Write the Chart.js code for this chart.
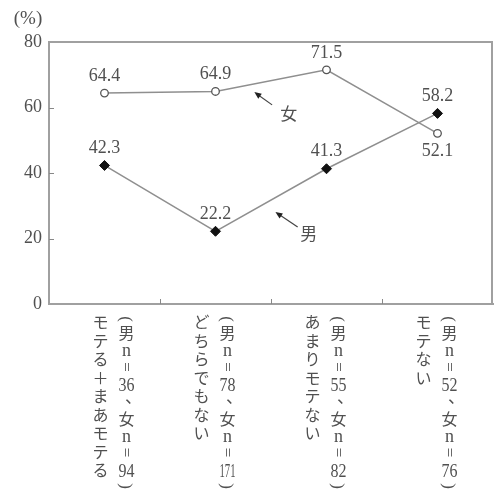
<!DOCTYPE html>
<html>
<head>
<meta charset="utf-8">
<script src="https://cdn.jsdelivr.net/npm/chart.js@4.4.0/dist/chart.umd.min.js"></script>
<style>
  body { margin: 0; background: #fff; }
  canvas { display: block; }
</style>
</head>
<body>
<canvas id="grafico" width="499" height="496"></canvas>
<script>
// categorias y series
const categorias = ['モテる＋まあモテる', 'どちらでもない', 'あまりモテない', 'モテない'];
const muestras = ['(男n=36、女n=94)', '(男n=78、女n=171)', '(男n=55、女n=82)', '(男n=52、女n=76)'];
const mujeres = [64.4, 64.9, 71.5, 52.1];
const hombres = [42.3, 22.2, 41.3, 58.2];
const posMujeres = ['top', 'top', 'top', 'bottom'];
const posHombres = ['top', 'top', 'top', 'top'];
const ticksY = [0, 20, 40, 60, 80];

// anotaciones (en coordenadas de datos)
const notas = [
    { texto: '女', en: [1.66, 58.3], cola: [1.51, 60.8], punta: [1.35, 64.7] },
    { texto: '男', en: [1.84, 21.4], cola: [1.74, 23.5], punta: [1.54, 28.1] }
];

const GRIS_TEXTO = '#505050';
const GRIS_EJE = '#a0a0a0';
const SERIF = '"Liberation Serif", "DejaVu Serif", serif';
const CJK = '"Noto Sans CJK JP", sans-serif';

// texto vertical japonés, token por token
function tokens(str) {
    const out = [];
    let i = 0;
    while (i < str.length) {
        if (/[0-9]/.test(str[i])) {
            let j = i;
            while (j < str.length && /[0-9]/.test(str[j])) j++;
            out.push(str.slice(i, j));
            i = j;
        } else {
            out.push(str[i]);
            i++;
        }
    }
    return out;
}

function avance(t) {
    if (/^[0-9]+$/.test(t)) return 20;
    if (t === '(' || t === ')') return 10;
    if (t === 'n') return 16;
    if (t === '=') return 17;
    if (t === '、') return 14;
    return 18.5;
}

function textoVertical(ctx, str, x, y0) {
    let y = y0;
    ctx.save();
    ctx.fillStyle = GRIS_TEXTO;
    ctx.textAlign = 'center';
    ctx.textBaseline = 'middle';
    for (const t of tokens(str)) {
        const h = avance(t);
        const cy = y + h / 2;
        if (t === '(' || t === ')' || t === '=') {
            ctx.save();
            ctx.translate(x, cy);
            ctx.rotate(Math.PI / 2);
            ctx.font = '17px ' + SERIF;
            ctx.fillText(t, 0, 1);
            ctx.restore();
        } else if (/^[0-9]+$/.test(t) || t === 'n') {
            ctx.font = '18px ' + SERIF;
            const w = ctx.measureText(t).width;
            ctx.save();
            ctx.translate(x, cy);
            if (w > 16) ctx.scale(16 / w, 1);
            ctx.fillText(t, 0, 1);
            ctx.restore();
        } else if (t === '、') {
            ctx.font = '17px ' + CJK;
            ctx.fillText(t, x + 7, cy - 6);
        } else {
            ctx.font = '16px ' + CJK;
            ctx.fillText(t, x, cy);
        }
        y += h;
    }
    ctx.restore();
}

function flecha(ctx, x1, y1, x2, y2) {
    const ang = Math.atan2(y2 - y1, x2 - x1);
    ctx.save();
    ctx.strokeStyle = '#444';
    ctx.fillStyle = '#222';
    ctx.lineWidth = 1.2;
    ctx.beginPath();
    ctx.moveTo(x1, y1);
    ctx.lineTo(x2 - 4 * Math.cos(ang), y2 - 4 * Math.sin(ang));
    ctx.stroke();
    ctx.beginPath();
    ctx.moveTo(x2, y2);
    ctx.lineTo(x2 - 7 * Math.cos(ang) + 3 * Math.sin(ang), y2 - 7 * Math.sin(ang) - 3 * Math.cos(ang));
    ctx.lineTo(x2 - 7 * Math.cos(ang) - 3 * Math.sin(ang), y2 - 7 * Math.sin(ang) + 3 * Math.cos(ang));
    ctx.closePath();
    ctx.fill();
    ctx.restore();
}

const adornos = {
    id: 'adornos',
    afterDraw(chart) {
        const ctx = chart.ctx;
        const area = chart.chartArea;
        const sx = chart.scales.x;
        const sy = chart.scales.y;

        // marco superior y derecho
        ctx.save();
        ctx.strokeStyle = GRIS_EJE;
        ctx.lineWidth = 2;
        ctx.beginPath();
        ctx.moveTo(area.left, area.top);
        ctx.lineTo(area.right - 1, area.top);
        ctx.lineTo(area.right - 1, area.bottom);
        ctx.stroke();

        // marcas hacia adentro
        ctx.lineWidth = 1;
        ctx.strokeStyle = '#888';
        ticksY.slice(1, -1).forEach(v => {
            const y = Math.round(sy.getPixelForValue(v)) + 0.5;
            ctx.beginPath();
            ctx.moveTo(area.left, y);
            ctx.lineTo(area.left + 5, y);
            ctx.stroke();
        });
        for (let i = 1; i < categorias.length; i++) {
            const x = Math.round(sx.getPixelForValue(i - 0.5)) + 0.5;
            ctx.beginPath();
            ctx.moveTo(x, area.bottom);
            ctx.lineTo(x, area.bottom - 5);
            ctx.stroke();
        }
        ctx.restore();

        // (%)
        ctx.save();
        ctx.fillStyle = GRIS_TEXTO;
        ctx.font = '19px ' + SERIF;
        ctx.textAlign = 'center';
        ctx.textBaseline = 'middle';
        ctx.fillText('(%)', area.left - 21, area.top - 23);
        ctx.restore();

        // etiquetas de valores
        ctx.save();
        ctx.fillStyle = GRIS_TEXTO;
        ctx.font = '18px ' + SERIF;
        ctx.textAlign = 'center';
        ctx.textBaseline = 'middle';
        [[0, posMujeres], [1, posHombres]].forEach(([d, pos]) => {
            const meta = chart.getDatasetMeta(d);
            const vals = chart.data.datasets[d].data;
            meta.data.forEach((pt, i) => {
                const dy = pos[i] === 'top' ? -17 : 18;
                ctx.fillText(vals[i].toFixed(1), pt.x, pt.y + dy);
            });
        });
        ctx.restore();

        // flechas 女 / 男
        notas.forEach(n => {
            flecha(ctx,
                sx.getPixelForValue(n.cola[0]), sy.getPixelForValue(n.cola[1]),
                sx.getPixelForValue(n.punta[0]), sy.getPixelForValue(n.punta[1]));
            ctx.save();
            ctx.fillStyle = GRIS_TEXTO;
            ctx.font = '17px ' + CJK;
            ctx.textAlign = 'center';
            ctx.textBaseline = 'middle';
            ctx.fillText(n.texto, sx.getPixelForValue(n.en[0]), sy.getPixelForValue(n.en[1]));
            ctx.restore();
        });

        // etiquetas verticales del eje x
        const y0 = area.bottom + 9;
        categorias.forEach((c, i) => {
            const cx = sx.getPixelForValue(i) + (i === 0 ? 10 : 0);
            textoVertical(ctx, c, cx - 14, y0);
            textoVertical(ctx, muestras[i], cx + 12, y0 + 1);
        });
    }
};

new Chart(document.getElementById('grafico'), {
    type: 'line',
    data: {
        labels: categorias,
        datasets: [
            {
                label: '女',
                data: mujeres,
                borderColor: '#8f8f8f',
                borderWidth: 1.5,
                pointStyle: 'circle',
                pointRadius: 3.8,
                pointBackgroundColor: '#fff',
                pointBorderColor: '#555',
                pointBorderWidth: 1.3,
                tension: 0
            },
            {
                label: '男',
                data: hombres,
                borderColor: '#8f8f8f',
                borderWidth: 1.5,
                pointStyle: 'rectRot',
                pointRadius: 5,
                pointBackgroundColor: '#111',
                pointBorderColor: '#111',
                pointBorderWidth: 1,
                tension: 0
            }
        ]
    },
    options: {
        responsive: false,
        animation: false,
        layout: { padding: { left: 0, top: 42, right: 1, bottom: 192 } },
        plugins: {
            legend: { display: false },
            tooltip: { enabled: false }
        },
        scales: {
            x: {
                offset: true,
                ticks: { display: false },
                grid: { display: false, drawTicks: false },
                border: { display: true, color: GRIS_EJE, width: 2 }
            },
            y: {
                min: 0,
                max: 80,
                afterFit(scale) { scale.width = 49; },
                afterBuildTicks(scale) { scale.ticks = ticksY.map(v => ({ value: v })); },
                ticks: {
                    padding: 7,
                    color: GRIS_TEXTO,
                    font: { family: SERIF, size: 18 }
                },
                grid: { display: false, drawTicks: false },
                border: { display: true, color: GRIS_EJE, width: 2 }
            }
        }
    },
    plugins: [adornos]
});
</script>
</body>
</html>
